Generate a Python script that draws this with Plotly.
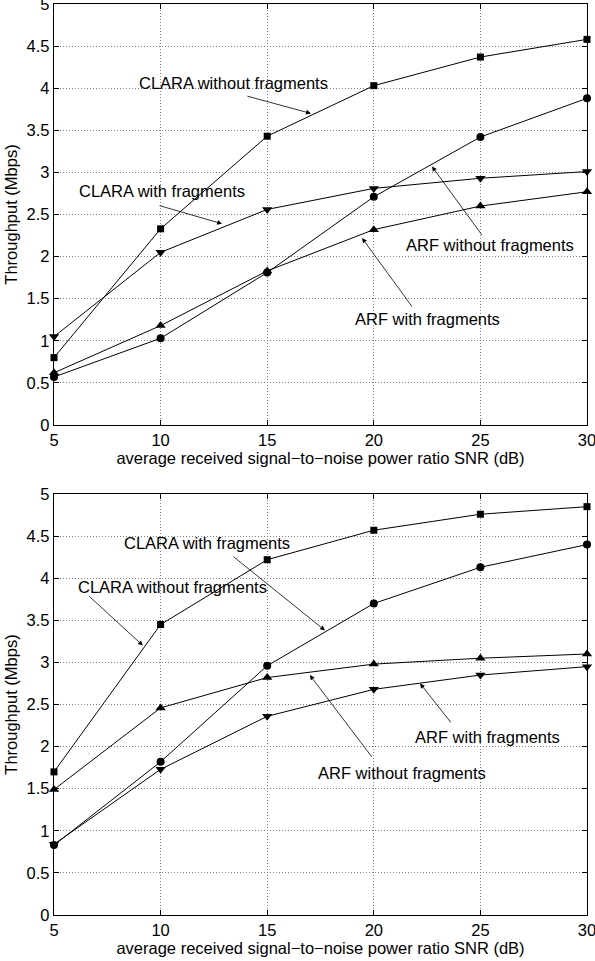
import plotly.graph_objects as go
from plotly.subplots import make_subplots

snr = [5, 10, 15, 20, 25, 30]

# Top panel
top_clara_wo = [0.80, 2.33, 3.43, 4.03, 4.37, 4.58]
top_clara_w = [1.05, 2.05, 2.56, 2.81, 2.93, 3.01]
top_arf_wo = [0.57, 1.03, 1.81, 2.71, 3.42, 3.88]
top_arf_w = [0.62, 1.18, 1.83, 2.32, 2.60, 2.77]

# Bottom panel
bot_clara_wo = [1.70, 3.45, 4.22, 4.57, 4.76, 4.85]
bot_clara_w = [0.83, 1.82, 2.96, 3.70, 4.13, 4.40]
bot_arf_wo = [1.49, 2.46, 2.82, 2.98, 3.05, 3.10]
bot_arf_w = [0.84, 1.73, 2.36, 2.68, 2.85, 2.95]

y_ticks = [0, 0.5, 1, 1.5, 2, 2.5, 3, 3.5, 4, 4.5, 5]
y_tick_text = ["0", "0.5", "1", "1.5", "2", "2.5", "3", "3.5", "4", "4.5", "5"]

FONT = "Liberation Sans, Arial, Helvetica, sans-serif"
FS = 16.5

fig = make_subplots(rows=2, cols=1, vertical_spacing=0.0758)

def add_series(row, y, symbol, size):
    fig.add_trace(go.Scatter(
        x=snr, y=y, mode="lines+markers", cliponaxis=False,
        line=dict(color="black", width=1),
        marker=dict(symbol=symbol, size=size, color="black"),
        showlegend=False), row=row, col=1)

add_series(1, top_clara_wo, "square", 7)
add_series(1, top_clara_w, "triangle-down", 9)
add_series(1, top_arf_wo, "circle", 8)
add_series(1, top_arf_w, "triangle-up", 9)

add_series(2, bot_clara_wo, "square", 7)
add_series(2, bot_clara_w, "circle", 8)
add_series(2, bot_arf_wo, "triangle-up", 9)
add_series(2, bot_arf_w, "triangle-down", 9)

axis_common = dict(
    showline=True, linecolor="black", linewidth=1.3, mirror="allticks",
    ticks="inside", ticklen=5, tickcolor="black", automargin=False,
    ticklabeloverflow="allow",
    showgrid=True, gridcolor="#808080", griddash="1px,2px", gridwidth=1,
    zeroline=False, tickfont=dict(family=FONT, size=FS, color="black"),
)

for r in (1, 2):
    fig.update_xaxes(range=[5, 30], tickvals=snr, ticktext=[str(v) for v in snr],
                     title=dict(text="average received signal\u2212to\u2212noise power ratio SNR (dB)",
                                font=dict(family=FONT, size=FS, color="black"), standoff=3),
                     row=r, col=1, **axis_common)
    fig.update_yaxes(range=[0, 5], tickvals=y_ticks, ticktext=y_tick_text,
                     title=dict(text="Throughput (Mbps)",
                                font=dict(family=FONT, size=FS, color="black"), standoff=4),
                     row=r, col=1, **axis_common)

fig.update_layout(
    width=595, height=961,
    margin=dict(l=54, r=8, t=4, b=46, autoexpand=False),
    paper_bgcolor="white", plot_bgcolor="white",
    font=dict(family=FONT, color="black"),
)
fig.update_yaxes(domain=[0.5379, 1.0], row=1, col=1)
fig.update_yaxes(domain=[0.0, 0.4621], row=2, col=1)

def label(xref, yref, x, y, text):
    fig.add_annotation(x=x, y=y, xref=xref, yref=yref, text=text, showarrow=False,
                       font=dict(family=FONT, size=FS, color="black"),
                       xanchor="center", yanchor="middle")

def arrow(xref, yref, tail, head):
    fig.add_annotation(x=head[0], y=head[1], ax=tail[0], ay=tail[1],
                       xref=xref, yref=yref, axref=xref, ayref=yref,
                       text="", showarrow=True, arrowhead=2, arrowsize=1.2,
                       arrowwidth=0.8, arrowcolor="black")

# Top panel labels
label("x", "y", 13.44, 4.06, "CLARA without fragments")
arrow("x", "y", (14.0, 3.91), (17.05, 3.70))
label("x", "y", 10.07, 2.78, "CLARA with fragments")
arrow("x", "y", (9.88, 2.61), (12.88, 2.39))
label("x", "y", 25.45, 2.14, "ARF without fragments")
arrow("x", "y", (25.12, 2.24), (22.73, 3.07))
label("x", "y", 22.5, 1.26, "ARF with fragments")
arrow("x", "y", (21.84, 1.39), (19.45, 2.22))

# Bottom panel labels
label("x2", "y2", 12.18, 4.42, "CLARA with fragments")
arrow("x2", "y2", (13.35, 4.27), (17.71, 3.38))
label("x2", "y2", 10.58, 3.90, "CLARA without fragments")
arrow("x2", "y2", (6.59, 3.80), (9.17, 3.20))
label("x2", "y2", 25.31, 2.12, "ARF with fragments")
arrow("x2", "y2", (23.67, 2.27), (22.17, 2.75))
label("x2", "y2", 21.32, 1.69, "ARF without fragments")
arrow("x2", "y2", (19.96, 1.86), (17.0, 2.85))

fig.write_html("out.html",
               config={"displayModeBar": False},
               post_script="document.body.style.margin='0px';document.body.style.overflow='hidden';")
